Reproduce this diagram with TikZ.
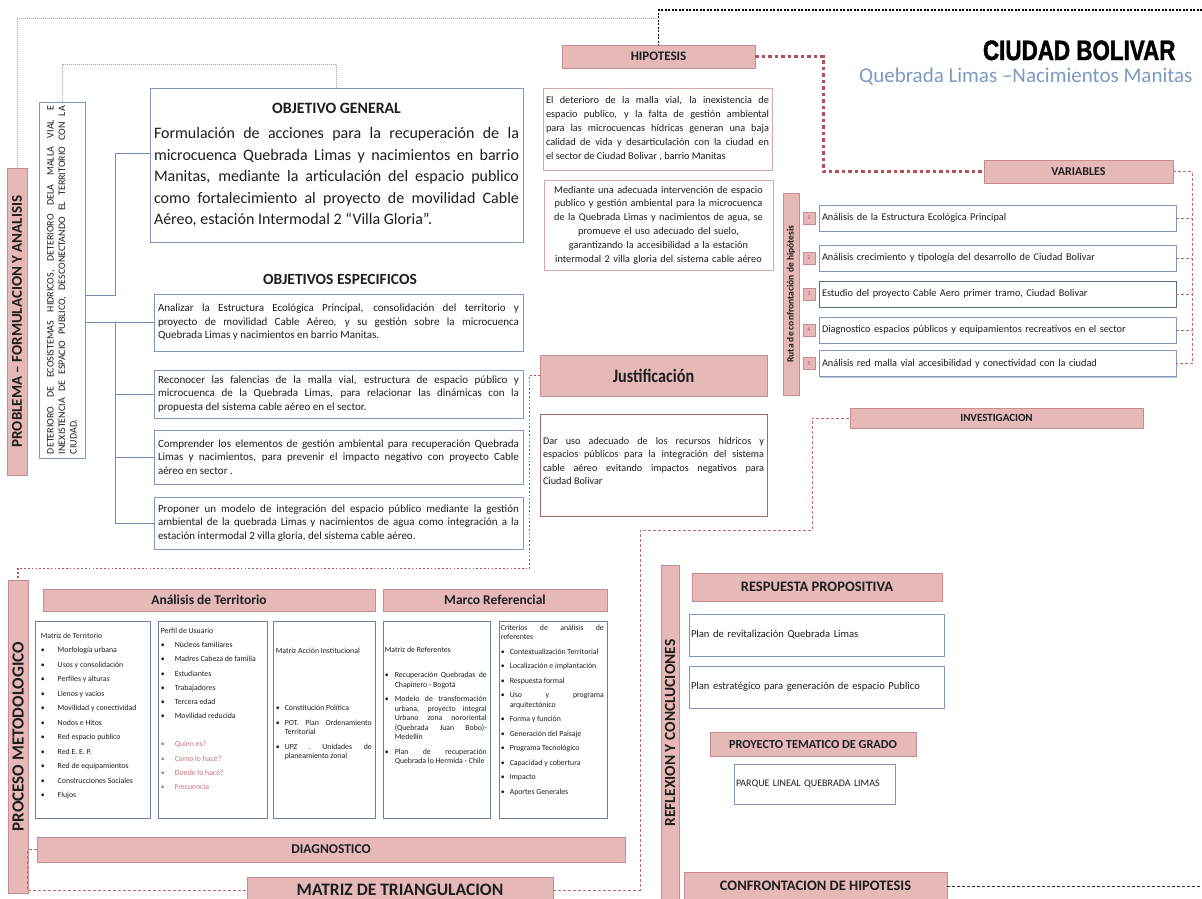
\documentclass[tikz,border=0pt]{standalone}
\usepackage{fontspec}
\setmainfont{Carlito}
\newfontfamily\titlefont[FakeStretch=0.8,FakeBold=1.6]{Liberation Sans}
\usepackage{enumitem}
\usepackage{graphicx}
\usetikzlibrary{shadows,calc}
\setlength{\parindent}{0pt}
\tolerance=9999
\hbadness=10000
\hyphenpenalty=10000
\exhyphenpenalty=10000

\definecolor{pinkfill}{HTML}{E6B9B8}
\definecolor{pinkline}{HTML}{C78C8B}
\definecolor{boxblue}{HTML}{7D99C0}
\definecolor{connblue}{HTML}{6F8EB7}
\definecolor{dotred}{HTML}{B4505A}
\definecolor{dashred}{HTML}{C26A72}
\definecolor{graydot}{HTML}{BBA3A5}
\definecolor{subblue}{HTML}{7C9AC0}
\definecolor{pinktext}{HTML}{C8727E}
\definecolor{hipline}{HTML}{D8A6A6}
\definecolor{justline}{HTML}{A36A6A}
\definecolor{ink}{HTML}{1E1E1E}

\newlist{blist}{itemize}{1}
\setlist[blist]{label=\textbullet,align=left,labelindent=0pt,labelwidth=3pt,labelsep=*,leftmargin=15pt,topsep=5pt,itemsep=5pt,parsep=0pt,partopsep=0pt}

\tikzset{
  shad/.style={drop shadow={shadow xshift=1.1pt,shadow yshift=-1.1pt,opacity=0.25,fill=black}},
  hdr/.style={shad,draw=pinkline,fill=pinkfill,line width=0.8pt,inner sep=1pt,align=center,text=ink},
  tbox/.style={shad,draw=boxblue,line width=0.9pt,fill=white,inner sep=3pt,text=ink},
  hbox/.style={draw=hipline,line width=0.9pt,fill=white,inner sep=3pt,text=ink},
  jbox/.style={shad,draw=justline,line width=0.9pt,fill=white,inner sep=3pt,text=ink},
  colbox/.style={shad,draw=boxblue!85!black,line width=0.9pt,fill=white},
  coltext/.style={anchor=north west,inner sep=0pt,align=justify,text=ink,font={\fontsize{7.8}{9.5}\selectfont}},
  numbox/.style={draw=pinkline,fill=pinkfill,minimum width=12,minimum height=12,inner sep=0pt,text=dotred,font={\fontsize{6}{7}\selectfont}},
  vitem/.style={tbox,minimum width=357,minimum height=26,text width=351,align=left,font={\fontsize{10.3}{12}\selectfont}},
  sbox/.style={tbox,minimum width=369,text width=361,align=justify,font={\fontsize{11}{13.5}\selectfont}},
  bconn/.style={draw=connblue,line width=0.9pt},
  gdot/.style={draw=graydot,line width=1pt,dash pattern=on 1pt off 1pt},
  kdot/.style={draw=black,line width=1.3pt,dash pattern=on 2pt off 1.5pt},
  kdash/.style={draw=black!85,line width=1pt,dash pattern=on 3pt off 2pt},
  rdot/.style={draw=dotred,line width=2.6pt,dash pattern=on 3.5pt off 3pt},
  rdotthin/.style={draw=dotred,line width=1.6pt,dash pattern=on 1.6pt off 2.2pt},
  rdash/.style={draw=dashred,line width=0.9pt,dash pattern=on 3pt off 2pt}
}

\begin{document}
\begin{tikzpicture}[x=1pt,y=-1pt]
\useasboundingbox (0,0) rectangle (1202,898);
\fill[white] (0,0) rectangle (1202,898);

% ---------- problem statement ----------
\node[hdr,rotate=90,minimum width=307,minimum height=20,font={\bfseries\fontsize{15}{16}\selectfont}] (prob) at (17,321.5) {PROBLEMA – FORMULACION Y ANALISIS};

\node[tbox,rotate=90,minimum width=356,minimum height=46,text width=348,align=justify,font={\fontsize{10}{11.5}\selectfont}] (det) at (62,280)
{DETERIORO DE ECOSISTEMAS HIDRICOS, DETERIORO DELA MALLA VIAL E\linebreak INEXISTENCIA DE ESPACIO PUBLICO, DESCONECTANDO EL TERRITORIO CON LA\linebreak CIUDAD.};

% ---------- objectives ----------
\node[tbox,minimum width=373,minimum height=154,text width=365,align=justify,font={\fontsize{16}{21.5}\selectfont}] (og) at (336.5,165)
{{\centering\bfseries\fontsize{15.8}{18}\selectfont OBJETIVO GENERAL\par}\vspace{4pt}Formulación de acciones para la recuperación de la\linebreak microcuenca Quebrada Limas y nacimientos en barrio\linebreak Manitas, mediante la articulación del espacio publico\linebreak como fortalecimiento al proyecto de movilidad Cable\linebreak Aéreo, estación Intermodal 2 “Villa Gloria”.};

\node[text=ink,font={\bfseries\fontsize{15.5}{17}\selectfont}] (oetit) at (340,279) {OBJETIVOS ESPECIFICOS};

\node[sbox,minimum height=57] (s1) at (338.5,322.5)
{Analizar la Estructura Ecológica Principal, consolidación del territorio y\linebreak proyecto de movilidad Cable Aéreo, y su gestión sobre la microcuenca\linebreak Quebrada Limas y nacimientos en barrio Manitas.};
\node[sbox,minimum height=48] (s2) at (338.5,394)
{Reconocer las falencias de la malla vial, estructura de espacio público y\linebreak microcuenca de la Quebrada Limas, para relacionar las dinámicas con la\linebreak propuesta del sistema cable aéreo en el sector.};
\node[sbox,minimum height=54] (s3) at (338.5,457)
{Comprender los elementos de gestión ambiental para recuperación Quebrada\linebreak Limas y nacimientos, para prevenir el impacto negativo con proyecto Cable\linebreak aéreo en sector .};
\node[sbox,minimum height=52] (s4) at (338.5,523)
{Proponer un modelo de integración del espacio público mediante la gestión\linebreak ambiental de la quebrada Limas y nacimientos de agua como integración a la\linebreak estación intermodal 2 villa gloria, del sistema cable aéreo.};

% tree connectors from the problem box
\coordinate (busA) at (115,295);
\draw[bconn] (det.south |- busA) -- (busA) |- ([yshift=12pt]og.west);
\draw[bconn] (det.south |- s1.west) -- (s1.west);
\draw[bconn] (busA |- s1.west) |- (s4.west);
\draw[bconn] (busA |- s2.west) -- (s2.west);
\draw[bconn] (busA |- s3.west) -- (s3.west);

% ---------- hypothesis ----------
\node[hdr,minimum width=193,minimum height=23,font={\bfseries\fontsize{13}{15}\selectfont}] (hip) at (658.5,56.5) {HIPOTESIS};
\node[hbox,minimum width=229,minimum height=82,text width=223,align=justify,font={\fontsize{10.3}{14}\selectfont}] (h1) at (657.5,129)
{El deterioro de la malla vial, la inexistencia de\linebreak espacio publico, y la falta de gestión ambiental\linebreak para las microcuencas hídricas generan una baja\linebreak calidad de vida y desarticulación con la ciudad en\linebreak el sector de Ciudad Bolivar , barrio Manitas};
\node[hbox,minimum width=227,minimum height=90,text width=223,align=center,font={\fontsize{10.3}{13.8}\selectfont}] (h2) at (658.5,225)
{Mediante una adecuada intervención de espacio\\ publico y gestión ambiental para la microcuenca\\ de la Quebrada Limas y nacimientos de agua, se\\ promueve el uso adecuado del suelo,\\ garantizando la accesibilidad a la estación\\ intermodal 2 villa gloria del sistema cable aéreo};

% upper dotted links
\coordinate (gy) at (0,18);
\coordinate (bkR) at (1202,10);
\draw[gdot] (prob.east) |- (hip.north |- gy);
\draw[gdot] (det.east) -- ++(0,-37) -| (og.north);
\draw[kdot] (bkR) -| (hip.north);

% ---------- title ----------
\node[anchor=base east,text=black,font={\titlefont\bfseries\fontsize{28}{30}\selectfont}] (ttl) at (1179,60) {CIUDAD BOLIVAR};
\node[anchor=base east,text=subblue,font={\fontsize{21}{23}\selectfont}] (sub) at (1196,82) {Quebrada Limas –Nacimientos Manitas};

% ---------- variables ----------
\node[hdr,minimum width=189,minimum height=23,font={\bfseries\fontsize{12}{14}\selectfont}] (var) at (1078.5,171.5) {VARIABLES};
\draw[rdot] (hip.east) -- ++(68,0) |- (var.west);

\node[hdr,rotate=90,minimum width=202,minimum height=16,font={\bfseries\fontsize{9.5}{11}\selectfont}] (ruta) at (791,294) {Ruta de confrontación de hipótesis};

\node[vitem] (v1) at (997.5,218) {Análisis de la Estructura Ecológica Principal};
\node[vitem] (v2) at (997.5,258) {Análisis crecimiento y tipología del desarrollo de Ciudad Bolivar};
\node[vitem,draw=boxblue!70!black] (v3) at (997.5,294) {Estudio del proyecto Cable Aero primer tramo, Ciudad Bolivar};
\node[vitem] (v4) at (997.5,330) {Diagnostico espacios públicos y equipamientos recreativos en el sector};
\node[vitem] (v5) at (997.5,363.5) {Análisis red malla vial accesibilidad y conectividad con la ciudad};
\node[numbox] (n1) at (809,218) {1};
\node[numbox] (n2) at (809,258) {2};
\node[numbox] (n3) at (809,294) {3};
\node[numbox] (n4) at (809,330) {4};
\node[numbox] (n5) at (809,363.5) {5};

\draw[rdash] (var.east) -- ++(19,0) coordinate (vbus) |- (v5.east);
\foreach \k in {1,...,4} \draw[rdash] (v\k.east) -- (v\k.east -| vbus);

\node[hdr,minimum width=293,minimum height=20,font={\bfseries\fontsize{11}{13}\selectfont}] (inv) at (996.5,418) {INVESTIGACION};

% ---------- justification ----------
\node[hdr,minimum width=227,minimum height=41,font={\bfseries\fontsize{19}{22}\selectfont}] (jh) at (653.5,375.5) {\scalebox{0.85}[1]{Justificación}};
\node[jbox,minimum width=227,minimum height=102,text width=221,align=justify,font={\fontsize{10.2}{13.5}\selectfont}] (jt) at (653.5,465)
{Dar uso adecuado de los recursos hídricos y\linebreak espacios públicos para la integración del sistema\linebreak cable aéreo evitando impactos negativos para\linebreak Ciudad Bolivar\par\vspace{8pt}};

% ---------- methodology ----------
\node[hdr,rotate=90,minimum width=313,minimum height=20,font={\bfseries\fontsize{17}{18}\selectfont}] (proc) at (18,736.5) {PROCESO METODOLOGICO};
\draw[rdotthin] (jh.west) -- ++(-10,0) -- ++(0,193) -| (proc.east);

\node[hdr,minimum width=332,minimum height=22,font={\bfseries\fontsize{13.5}{15}\selectfont}] (anh) at (209,600) {Análisis de Territorio};
\node[hdr,minimum width=224,minimum height=22,font={\bfseries\fontsize{13.5}{15}\selectfont}] (mrh) at (495,600) {Marco Referencial};

\node[colbox,minimum width=115,minimum height=197] (c1) at (92.5,719.5) {};
\node[colbox,minimum width=109,minimum height=197] (c2) at (212.5,719.5) {};
\node[colbox,minimum width=102,minimum height=197] (c3) at (324,719.5) {};
\node[colbox,minimum width=107,minimum height=197] (c4) at (436.5,719.5) {};
\node[colbox,minimum width=108,minimum height=197] (c5) at (553,719.5) {};

\node[coltext,text width=104] (t1) at ([xshift=6pt,yshift=-12pt]c1.north west)
{Matriz de Territorio
\begin{blist}[leftmargin=17pt]
\item Morfología urbana
\item Usos y consolidación
\item Perfiles y alturas
\item Llenos y vacíos
\item Movilidad y conectividad
\item Nodos e Hitos
\item Red espacio publico
\item Red E. E. P.
\item Red de equipamientos
\item Construcciones Sociales
\item Flujos
\end{blist}};

\node[coltext,text width=101] (t2) at ([xshift=3pt,yshift=-7pt]c2.north west)
{Perfil de Usuario
\begin{blist}[leftmargin=14pt,itemsep=4.7pt]
\item Núcleos familiares
\item Madres Cabeza de familia
\item Estudiantes
\item Trabajadores
\item Tercera edad
\item Movilidad reducida\par\vspace{14pt}
\item[\color{pinktext}\textbullet] \textcolor{pinktext}{Quien es?}
\item[\color{pinktext}\textbullet] \textcolor{pinktext}{Como lo hace?}
\item[\color{pinktext}\textbullet] \textcolor{pinktext}{Donde lo hace?}
\item[\color{pinktext}\textbullet] \textcolor{pinktext}{Frecuencia}
\end{blist}};

\node[coltext,text width=96] (t3) at ([xshift=3pt,yshift=-27pt]c3.north west)
{Matriz Acción Institucional\par\vspace{48pt}
\begin{blist}[leftmargin=9pt,topsep=0pt]
\item Constitución Política
\item POT. Plan Ordenamiento\linebreak Territorial
\item UPZ . Unidades de\linebreak planeamiento zonal
\end{blist}};

\node[coltext,text width=102] (t4) at ([xshift=2pt,yshift=-26pt]c4.north west)
{Matriz de Referentes\par\vspace{11pt}
\begin{blist}[leftmargin=10pt]
\item Recuperación Quebradas de\linebreak Chapinero - Bogotá
\item Modelo de transformación\linebreak urbana, proyecto integral\linebreak Urbano zona nororiental\linebreak (Quebrada Juan Bobo)-\linebreak Medellín
\item Plan de recuperación\linebreak Quebrada lo Hermida - Chile
\end{blist}};

\node[coltext,text width=103] (t5) at ([xshift=2pt,yshift=-4pt]c5.north west)
{Criterios de análisis de\linebreak referentes
\begin{blist}[leftmargin=9pt]
\item Contextualización Territorial
\item Localización e implantación
\item Respuesta formal
\item Uso y programa\linebreak arquitectónico
\item Forma y función
\item Generación del Paisaje
\item Programa Tecnológico
\item Capacidad y cobertura
\item Impacto
\item Aportes Generales
\end{blist}};

\node[hdr,minimum width=588,minimum height=25,font={\bfseries\fontsize{13.5}{15}\selectfont}] (diag) at (331,849.5) {DIAGNOSTICO};
\node[hdr,minimum width=306,minimum height=26,font={\bfseries\fontsize{17.5}{19}\selectfont}] (mat) at (400,890) {MATRIZ DE TRIANGULACION};

\draw[rdash] (diag.west) -- ++(-9,0) |- (mat.west);
\draw[rdash] (mat.east) -| (640,530) -- (812,530) |- (inv.west);

% ---------- reflection and conclusions ----------
\node[hdr,rotate=90,minimum width=336,minimum height=18,font={\bfseries\fontsize{15.5}{17}\selectfont}] (refl) at (670,733) {REFLEXION Y CONCLUCIONES};

\node[hdr,minimum width=250,minimum height=28,font={\bfseries\fontsize{14.5}{16}\selectfont}] (resp) at (817,587) {RESPUESTA PROPOSITIVA};
\node[tbox,minimum width=255,minimum height=42,text width=251,inner sep=2pt,align=left,font={\fontsize{10.6}{12}\selectfont}] (pr1) at (816.5,635) {Plan de revitalización Quebrada Limas};
\node[tbox,minimum width=255,minimum height=42,text width=251,inner sep=2pt,align=left,font={\fontsize{10.6}{12}\selectfont}] (pr2) at (816.5,687) {Plan estratégico para generación de espacio Publico};
\node[hdr,minimum width=206,minimum height=24,font={\bfseries\fontsize{12.3}{14}\selectfont}] (ptg) at (813,744) {PROYECTO TEMATICO DE GRADO};
\node[tbox,minimum width=161,minimum height=40,text width=157,inner sep=2pt,align=left,font={\fontsize{10}{11}\selectfont}] (plq) at (814.5,784) {PARQUE LINEAL QUEBRADA LIMAS};
\node[hdr,minimum width=263,minimum height=28,font={\bfseries\fontsize{14.5}{16}\selectfont}] (conf) at (815.5,886) {CONFRONTACION DE HIPOTESIS};

\coordinate (bkB) at (1202,886);
\draw[kdash] (conf.east) -- (bkB);
\end{tikzpicture}
\end{document}
